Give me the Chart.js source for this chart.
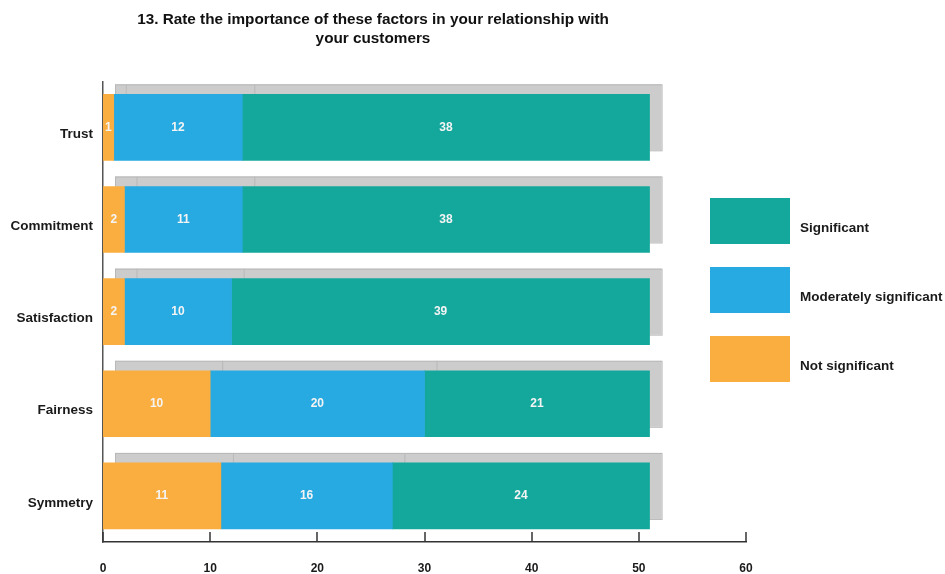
<!DOCTYPE html>
<html>
<head>
<meta charset="utf-8">
<script src="https://cdn.jsdelivr.net/npm/chart.js@4/dist/chart.umd.min.js"></script>
<style>
  body { margin: 0; background: #fff; }
  canvas { display: block; }
</style>
</head>
<body>
<canvas id="chart" width="945" height="574"></canvas>
<script>
const categories = ['Trust', 'Commitment', 'Satisfaction', 'Fairness', 'Symmetry'];
const notSignificant = [1, 2, 2, 10, 11];
const moderatelySignificant = [12, 11, 10, 20, 16];
const significant = [38, 38, 39, 21, 24];
const xTicks = [0, 10, 20, 30, 40, 50, 60];

const FONT = 'Arial, "Liberation Sans", sans-serif';

// grey 3d-ish shadow behind every segment
const shadowPlugin = {
  id: 'shadow',
  beforeDatasetsDraw(chart) {
    const ctx = chart.ctx;
    ctx.save();
    chart.data.datasets.forEach((ds, i) => {
      chart.getDatasetMeta(i).data.forEach(bar => {
        const left = Math.min(bar.base, bar.x) + 12;
        const right = Math.max(bar.base, bar.x) + 12;
        const top = bar.y - bar.height / 2 - 10;
        ctx.fillStyle = '#cccccc';
        ctx.strokeStyle = '#b8b8b8';
        ctx.lineWidth = 1;
        ctx.fillRect(left, top, right - left, bar.height);
        ctx.strokeRect(left + 0.5, top + 0.5, right - left, bar.height);
      });
    });
    ctx.restore();
  },
  afterDatasetsDraw(chart) {
    const ctx = chart.ctx;
    ctx.save();
    // value labels
    ctx.font = 'bold 12px ' + FONT;
    ctx.fillStyle = '#f4f4f4';
    ctx.textAlign = 'center';
    ctx.textBaseline = 'middle';
    chart.data.datasets.forEach((ds, i) => {
      chart.getDatasetMeta(i).data.forEach((bar, j) => {
        ctx.fillText(ds.data[j], (bar.x + bar.base) / 2, bar.y);
      });
    });
    // upward tick marks on x axis
    const xs = chart.scales.x;
    ctx.strokeStyle = '#333';
    ctx.lineWidth = 1.5;
    xTicks.forEach(v => {
      const px = Math.round(xs.getPixelForValue(v));
      ctx.beginPath();
      ctx.moveTo(px, xs.top - 10);
      ctx.lineTo(px, xs.top);
      ctx.stroke();
    });
    ctx.restore();
  },
  afterDraw(chart) {
    // legend, top item = last dataset
    const ctx = chart.ctx;
    ctx.save();
    ctx.font = 'bold 13.5px ' + FONT;
    ctx.textBaseline = 'middle';
    ctx.textAlign = 'left';
    const items = chart.data.datasets.slice().reverse();
    items.forEach((ds, k) => {
      const y = 198 + k * 69;
      ctx.fillStyle = ds.backgroundColor;
      ctx.fillRect(710, y, 80, 46);
      ctx.fillStyle = '#1a1a1a';
      ctx.fillText(ds.label, 800, y + 30);
    });
    ctx.restore();
  }
};

new Chart(document.getElementById('chart'), {
  type: 'bar',
  data: {
    labels: categories,
    datasets: [
      { label: 'Not significant', data: notSignificant, backgroundColor: '#fbae40' },
      { label: 'Moderately significant', data: moderatelySignificant, backgroundColor: '#27a9e1' },
      { label: 'Significant', data: significant, backgroundColor: '#14a89d' }
    ]
  },
  options: {
    indexAxis: 'y',
    responsive: false,
    animation: false,
    layout: { padding: { top: 10, right: 199, left: 0, bottom: 0 } },
    datasets: { bar: { barThickness: 66 } },
    scales: {
      x: {
        stacked: true,
        min: 0,
        max: 60,
        ticks: { stepSize: 10, padding: 19, color: '#1a1a1a', font: { family: FONT, size: 12, weight: 'bold' } },
        grid: { display: false, drawTicks: false },
        border: { color: '#333', width: 1.5 },
        afterFit(s) { s.height = 32; }
      },
      y: {
        stacked: true,
        ticks: { padding: 10, labelOffset: 7, color: '#1a1a1a', font: { family: FONT, size: 13.5, weight: 'bold' } },
        grid: { display: false, drawTicks: false },
        border: { color: '#555', width: 1.5 },
        afterFit(s) { s.width = 103; }
      }
    },
    plugins: {
      legend: { display: false },
      tooltip: { enabled: false },
      title: {
        display: true,
        text: ['13. Rate the importance of these factors in your relationship with', 'your customers'],
        color: '#111',
        font: { family: FONT, size: 15.3, weight: 'bold', lineHeight: 1.25 },
        padding: { top: 0, bottom: 33 }
      }
    }
  },
  plugins: [shadowPlugin]
});
</script>
</body>
</html>
